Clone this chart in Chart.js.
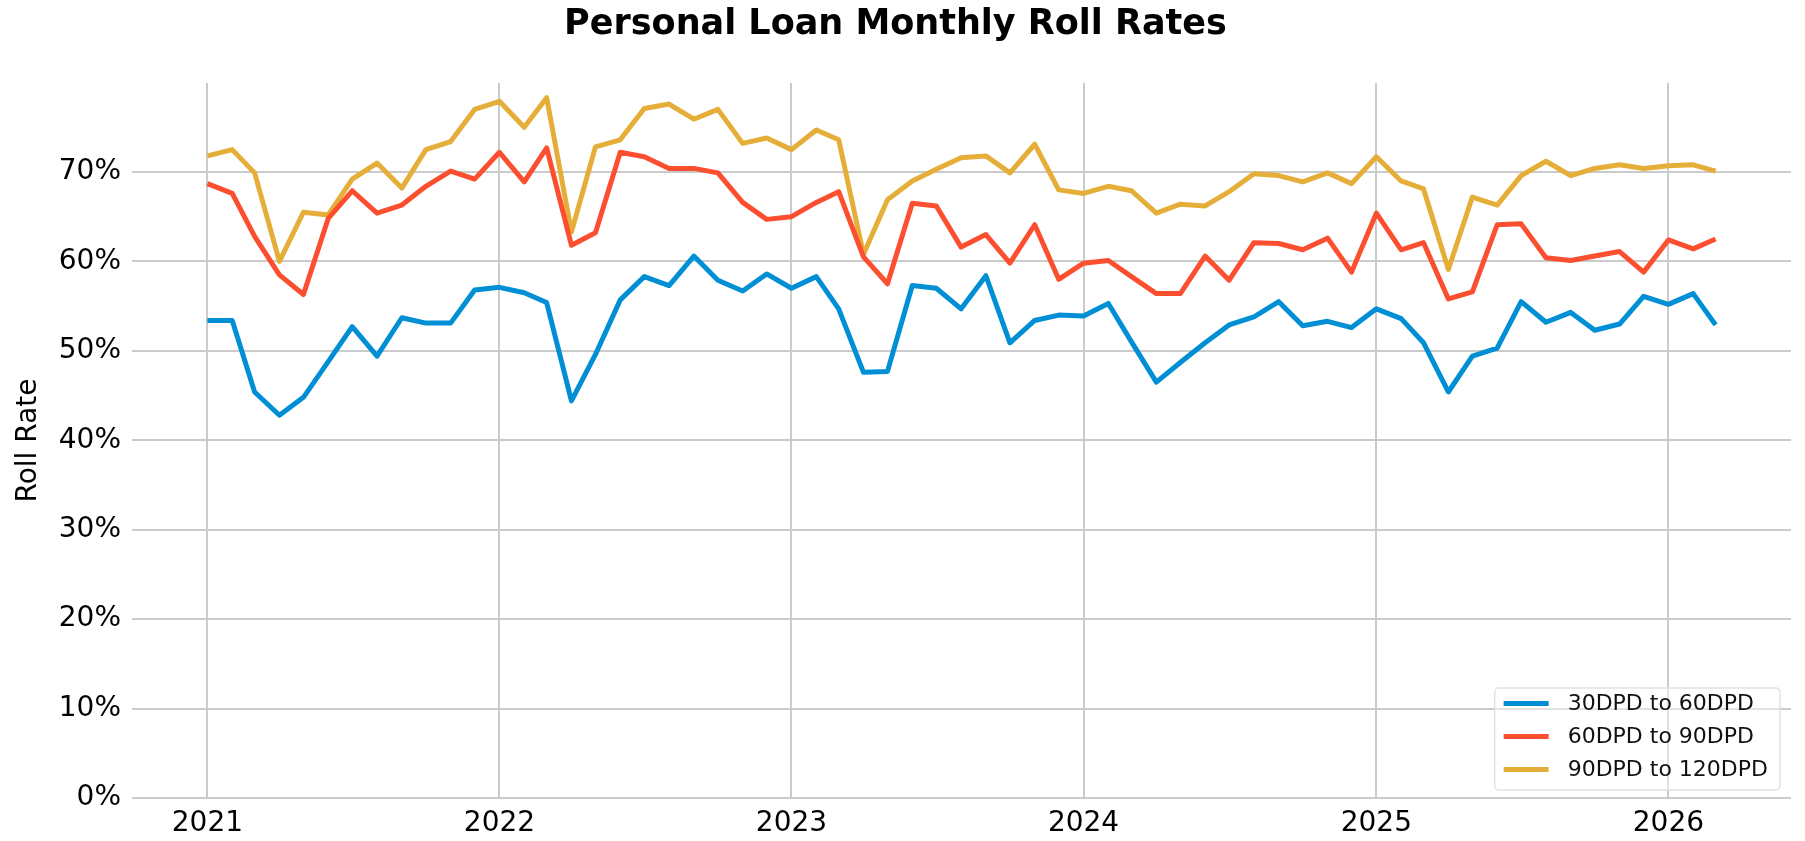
<!DOCTYPE html>
<html>
<head>
<meta charset="utf-8">
<title>Personal Loan Monthly Roll Rates</title>
<script src="https://cdn.jsdelivr.net/npm/chart.js@4.4.1/dist/chart.umd.min.js"></script>
<style>
  html, body { margin: 0; padding: 0; background: #fff; }
</style>
</head>
<body>
<canvas id="rollChart" width="1805" height="841"></canvas>
<script>
// Mois (premier jour du mois)
const months = [
  '2021-01','2021-02','2021-03','2021-04','2021-05','2021-06','2021-07','2021-08','2021-09','2021-10','2021-11','2021-12',
  '2022-01','2022-02','2022-03','2022-04','2022-05','2022-06','2022-07','2022-08','2022-09','2022-10','2022-11','2022-12',
  '2023-01','2023-02','2023-03','2023-04','2023-05','2023-06','2023-07','2023-08','2023-09','2023-10','2023-11','2023-12',
  '2024-01','2024-02','2024-03','2024-04','2024-05','2024-06','2024-07','2024-08','2024-09','2024-10','2024-11','2024-12',
  '2025-01','2025-02','2025-03','2025-04','2025-05','2025-06','2025-07','2025-08','2025-09','2025-10','2025-11','2025-12',
  '2026-01','2026-02','2026-03'
];

// Roll rates (%)
const rate30to60 = [
  53.4, 53.4, 45.4, 42.8, 44.8, 48.8, 52.7, 49.4, 53.7, 53.1, 53.1, 56.8,
  57.1, 56.5, 55.4, 44.4, 49.6, 55.7, 58.3, 57.3, 60.6, 57.9, 56.7, 58.6,
  57.0, 58.3, 54.7, 47.6, 47.7, 57.3, 57.0, 54.7, 58.4, 50.9, 53.4, 54.0,
  53.9, 55.3, 51.0, 46.5, 48.7, 50.9, 52.9, 53.8, 55.5, 52.8, 53.3, 52.6,
  54.7, 53.6, 50.9, 45.4, 49.4, 50.3, 55.5, 53.2, 54.3, 52.3, 53.0, 56.1,
  55.2, 56.4, 52.9
];
const rate60to90 = [
  68.7, 67.6, 62.8, 58.5, 56.3, 64.8, 67.9, 65.4, 66.3, 68.4, 70.1, 69.2,
  72.2, 68.9, 72.7, 61.8, 63.2, 72.2, 71.7, 70.4, 70.4, 69.9, 66.6, 64.7,
  65.0, 66.6, 67.8, 60.5, 57.5, 66.5, 66.2, 61.6, 63.0, 59.8, 64.1, 58.0,
  59.8, 60.1, 58.3, 56.4, 56.4, 60.6, 57.9, 62.1, 62.0, 61.3, 62.6, 58.8,
  65.4, 61.3, 62.1, 55.8, 56.6, 64.1, 64.2, 60.4, 60.1, 60.6, 61.1, 58.8,
  62.4, 61.4, 62.5
];
const rate90to120 = [
  71.8, 72.5, 69.9, 60.0, 65.5, 65.2, 69.2, 71.0, 68.2, 72.5, 73.4, 77.0,
  77.9, 75.0, 78.3, 63.3, 72.8, 73.6, 77.1, 77.6, 75.9, 77.0, 73.2, 73.8,
  72.5, 74.7, 73.6, 60.8, 66.9, 69.0, 70.3, 71.6, 71.8, 69.9, 73.1, 68.0,
  67.6, 68.4, 67.9, 65.4, 66.4, 66.2, 67.8, 69.8, 69.6, 68.9, 69.9, 68.7,
  71.7, 69.0, 68.1, 59.1, 67.2, 66.3, 69.6, 71.2, 69.6, 70.4, 70.8, 70.4,
  70.7, 70.8, 70.1
];

const seriesNames = ['30DPD to 60DPD', '60DPD to 90DPD', '90DPD to 120DPD'];
const seriesColors = ['#008fd5', '#fc4f30', '#e5ae38'];
const yearLabels = ['2021', '2022', '2023', '2024', '2025', '2026'];
const yTicks = [0, 10, 20, 30, 40, 50, 60, 70];

// date 'YYYY-MM' -> timestamp
function toTime(m) {
  const [y, mo] = m.split('-').map(Number);
  return Date.UTC(y, mo - 1, 1);
}

const times = months.map(toTime);
const span = times[times.length - 1] - times[0];
const xMin = times[0] - span * 0.05;
const xMax = times[times.length - 1] + span * 0.05;

Chart.defaults.font.family = '"DejaVu Sans", sans-serif';
Chart.defaults.color = '#000';

function makeDataset(idx, values) {
  return {
    label: seriesNames[idx],
    data: values.map((v, i) => ({ x: times[i], y: v })),
    borderColor: seriesColors[idx],
    backgroundColor: seriesColors[idx],
    borderWidth: 5,
    pointRadius: 0,
    tension: 0,
    borderJoinStyle: 'round',
    fill: false
  };
}

// Légende dessinée dans la zone du graphique (en bas à droite)
const insideLegend = {
  id: 'insideLegend',
  afterDatasetsDraw(chart) {
    const ctx = chart.ctx;
    const area = chart.chartArea;
    ctx.save();
    ctx.font = '22px "DejaVu Sans"';
    const textW = Math.max(...seriesNames.map(n => ctx.measureText(n).width));
    const w = 9 + 45 + 19 + textW + 12;
    const h = 102;
    const x = area.right - 11 - w;
    const y = area.bottom - 8 - h;
    ctx.beginPath();
    ctx.roundRect(x, y, w, h, 4);
    ctx.fillStyle = 'rgba(255,255,255,0.45)';
    ctx.fill();
    ctx.strokeStyle = '#e2e2e2';
    ctx.lineWidth = 1.5;
    ctx.stroke();
    ctx.textBaseline = 'middle';
    ctx.textAlign = 'left';
    chart.data.datasets.forEach((ds, i) => {
      const cy = y + 15.5 + i * 33;
      ctx.beginPath();
      ctx.moveTo(x + 9, cy);
      ctx.lineTo(x + 54, cy);
      ctx.strokeStyle = ds.borderColor;
      ctx.lineWidth = 5;
      ctx.stroke();
      ctx.fillStyle = '#111';
      ctx.fillText(ds.label, x + 73, cy + 1);
    });
    ctx.restore();
  }
};

const ctx = document.getElementById('rollChart').getContext('2d');
new Chart(ctx, {
  type: 'line',
  data: {
    datasets: [
      makeDataset(0, rate30to60),
      makeDataset(1, rate60to90),
      makeDataset(2, rate90to120)
    ]
  },
  options: {
    responsive: false,
    animation: false,
    layout: { padding: { left: 0, right: 14, top: 0, bottom: 0 } },
    plugins: {
      legend: { display: false },
      tooltip: { enabled: false },
      title: {
        display: true,
        text: 'Personal Loan Monthly Roll Rates',
        color: '#000',
        font: { size: 35, weight: 'bold' },
        padding: { top: 4, bottom: 37 }
      }
    },
    scales: {
      x: {
        type: 'linear',
        min: xMin,
        max: xMax,
        afterBuildTicks: axis => {
          axis.ticks = yearLabels.map(y => ({ value: Date.UTC(Number(y), 0, 1) }));
        },
        afterFit: axis => { axis.height = 43; },
        ticks: {
          callback: (v, i) => yearLabels[i],
          font: { size: 28 },
          color: '#000',
          padding: 9,
          maxRotation: 0,
          autoSkip: false
        },
        grid: { color: '#cbcbcb', lineWidth: 2, drawTicks: false },
        border: { display: false }
      },
      y: {
        min: 0,
        max: 79.95,
        afterBuildTicks: axis => {
          axis.ticks = yTicks.map(v => ({ value: v }));
        },
        afterFit: axis => { axis.width = 132; },
        ticks: {
          callback: v => v + '%',
          font: { size: 28 },
          color: '#000',
          padding: 11
        },
        title: {
          display: true,
          text: 'Roll Rate',
          color: '#000',
          font: { size: 28 },
          padding: { top: 12, bottom: 0 }
        },
        grid: { color: '#cbcbcb', lineWidth: 2, drawTicks: false },
        border: { display: false }
      }
    }
  },
  plugins: [insideLegend]
});
</script>
</body>
</html>
